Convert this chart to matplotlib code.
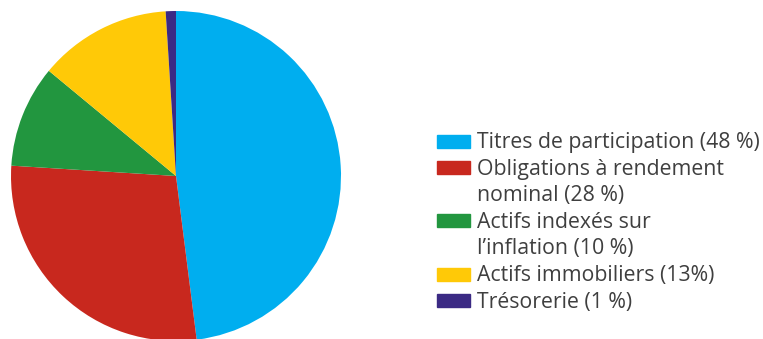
import matplotlib.pyplot as plt
from matplotlib.patches import Rectangle

# Répartition du portefeuille
labels = ["Titres de participation (48 %)",
          "Obligations à rendement\nnominal (28 %)",
          "Actifs indexés sur\nl’inflation (10 %)",
          "Actifs immobiliers (13%)",
          "Trésorerie (1 %)"]
shares = [48, 28, 10, 13, 1]
colors = ["#00AEEF", "#C8281E", "#22963F", "#FFC907", "#3B2A84"]

W, H = 763, 339
fig = plt.figure(figsize=(W / 100, H / 100), dpi=100)

# pie: centre (176, 176) px, radius 165 px
cx, cy, r = 176, 176, 165
ax = fig.add_axes([(cx - r) / W, (H - cy - r) / H, 2 * r / W, 2 * r / H])
ax.pie(shares, colors=colors, startangle=90, counterclock=False,
       wedgeprops=dict(linewidth=0))
ax.set_xlim(-1, 1)
ax.set_ylim(-1, 1)
ax.set_aspect("equal")
ax.axis("off")

# legend drawn by hand so the swatch sits on the first line
text_color = "#3F3F3F"
row = 26.6
y = 141
for lab, col in zip(labels, colors):
    fig.patches.append(Rectangle((437 / W, (H - y - 6.5) / H), 33 / W, 13 / H,
                                 transform=fig.transFigure, color=col))
    for i, line in enumerate(lab.split("\n")):
        fig.text(477 / W, (H - y - 1.5 - i * row) / H, line, fontsize=15.3,
                 family="Open Sans", color=text_color, va="center", ha="left")
    y += row * (lab.count("\n") + 1)

fig.savefig("out.png", dpi=100)
